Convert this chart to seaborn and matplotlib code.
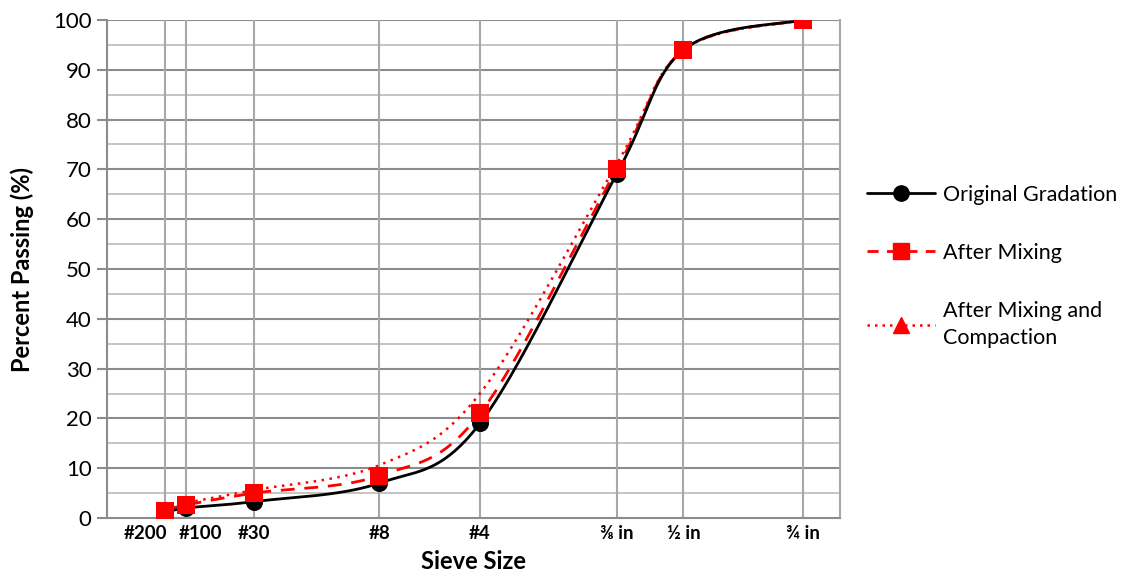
import numpy as np
import pandas as pd
import matplotlib
matplotlib.use("Agg")
import matplotlib.pyplot as plt
from matplotlib.lines import Line2D
import seaborn as sns

# Sieve sizes and percent passing for each gradation
sieve_labels = ["#200", "#100", "#30", "#8", "#4", "⅜ in", "½ in", "¾ in"]
sieve_mm = [0.075, 0.15, 0.6, 2.36, 4.75, 9.5, 12.5, 19.0]
original = [1.0, 2.0, 3.3, 7.0, 19.0, 69.0, 94.0, 100.0]
after_mixing = [1.5, 2.6, 5.0, 8.5, 21.0, 70.0, 94.0, 100.0]
after_compaction = [1.6, 3.0, 5.6, 10.6, 25.0, 71.0, 94.0, 100.0]

POWER = 0.45  # 0.45-power gradation chart

sns.set_theme(style="white", rc={"text.color": "black", "axes.labelcolor": "black",
                                 "xtick.color": "black", "ytick.color": "black"})
plt.rcParams["font.family"] = ["Lato", "DejaVu Sans"]


def smooth(x, y, n=40):
    """Catmull-Rom style smoothing through the points (like spreadsheet smoothed lines)."""
    x = np.asarray(x, float)
    y = np.asarray(y, float)
    px = np.concatenate([[x[0]], x, [x[-1]]])
    py = np.concatenate([[y[0]], y, [y[-1]]])
    xs, ys = [], []
    for i in range(1, len(px) - 2):
        p0 = np.array([px[i], py[i]])
        p3 = np.array([px[i + 1], py[i + 1]])
        c1 = p0 + (np.array([px[i + 1], py[i + 1]]) - np.array([px[i - 1], py[i - 1]])) / 6
        c2 = p3 - (np.array([px[i + 2], py[i + 2]]) - np.array([px[i], py[i]])) / 6
        t = np.linspace(0, 1, n)[:, None]
        b = ((1 - t) ** 3) * p0 + 3 * ((1 - t) ** 2) * t * c1 + 3 * (1 - t) * t ** 2 * c2 + t ** 3 * p3
        xs.append(b[:, 0])
        ys.append(b[:, 1])
    return np.concatenate(xs), np.concatenate(ys)


xpos = np.array(sieve_mm) ** POWER

fig = plt.figure(figsize=(11.22, 5.73), dpi=100)
ax = fig.add_axes([107 / 1122, 1 - 518 / 573, (840 - 107) / 1122, (518 - 20) / 573])

# grid
for yv in range(5, 100, 10):
    ax.axhline(yv, color="#c4c4c4", lw=1.4, zorder=0)
for yv in range(10, 101, 10):
    ax.axhline(yv, color="#8c8c8c", lw=1.5, zorder=0)
for xv in xpos:
    ax.axvline(xv, color="#a8a8a8", lw=1.5, zorder=0)

series = [
    ("After Mixing and Compaction", after_compaction, "#ff0000", (0, (1, 2.2)), 1.8),
    ("After Mixing", after_mixing, "#ff0000", (0, (5, 3.5)), 2.0),
    ("Original Gradation", original, "#000000", "-", 2.0),
]
for name, vals, col, ls, lw in series:
    sx, sy = smooth(xpos, vals)
    df = pd.DataFrame({"x": sx, "y": sy})
    sns.lineplot(data=df, x="x", y="y", ax=ax, color=col, lw=lw, linestyle=ls,
                 sort=False, estimator=None, zorder=3)

pts_o = pd.DataFrame({"x": xpos, "y": original})
pts_m = pd.DataFrame({"x": xpos, "y": after_mixing})
sns.scatterplot(data=pts_o, x="x", y="y", ax=ax, marker="o", s=150, color="black",
                edgecolor="black", linewidth=0, zorder=4)
sns.scatterplot(data=pts_m, x="x", y="y", ax=ax, marker="s", s=170, color="#ff0000",
                edgecolor="#ff0000", linewidth=0, zorder=5)

ax.set_xlim(0, 3.962)
ax.set_ylim(0, 100)
ax.set_yticks(range(0, 101, 10))
ax.set_yticklabels([str(v) for v in range(0, 101, 10)], fontsize=16)
ax.set_xticks(xpos)
# the two finest sieves sit close together: their labels are drawn separately, pushed apart
ax.set_xticklabels([""] * 2 + sieve_labels[2:], fontsize=13.5, fontweight="bold")
for i, dx, ha in [(0, 1.5, "right"), (1, -5.0, "left")]:
    ax.annotate(sieve_labels[i], xy=(xpos[i], 0), xycoords=("data", "axes fraction"),
                xytext=(dx, -5), textcoords="offset points", ha=ha, va="top",
                fontsize=13.5, fontweight="bold", color="black")
ax.tick_params(axis="y", which="major", length=7, width=1.5, color="#8c8c8c", labelcolor="black",
               pad=4, direction="out", left=True)
ax.tick_params(axis="x", length=0, pad=5, labelcolor="black")

ax.spines["top"].set_visible(False)
for side in ["left", "bottom", "right"]:
    ax.spines[side].set_color("#a8a8a8" if side == "right" else "#8c8c8c")
    ax.spines[side].set_linewidth(1.5)

ax.set_xlabel("Sieve Size", fontsize=17, fontweight="bold", labelpad=6)
ax.set_ylabel("Percent Passing (%)", fontsize=17, fontweight="bold", labelpad=14)

handles = [
    Line2D([], [], color="black", lw=2, marker="o", markersize=11, linestyle="-"),
    Line2D([], [], color="#ff0000", lw=2, marker="s", markersize=11, linestyle=(0, (4, 3))),
    Line2D([], [], color="#ff0000", lw=1.8, marker="^", markersize=11, linestyle=(0, (1, 2))),
]
labels = ["Original Gradation", "After Mixing", "After Mixing and\nCompaction"]
leg = fig.legend(handles, labels, loc="upper left", bbox_to_anchor=(858 / 1122, 1 - 176 / 573),
                 frameon=False, fontsize=15.5, handlelength=3.2, handletextpad=0.35,
                 labelspacing=1.78, borderaxespad=0)
for t in leg.get_texts():
    t.set_linespacing(1.45)
    t.set_color("black")

fig.savefig("out.png", dpi=100)
